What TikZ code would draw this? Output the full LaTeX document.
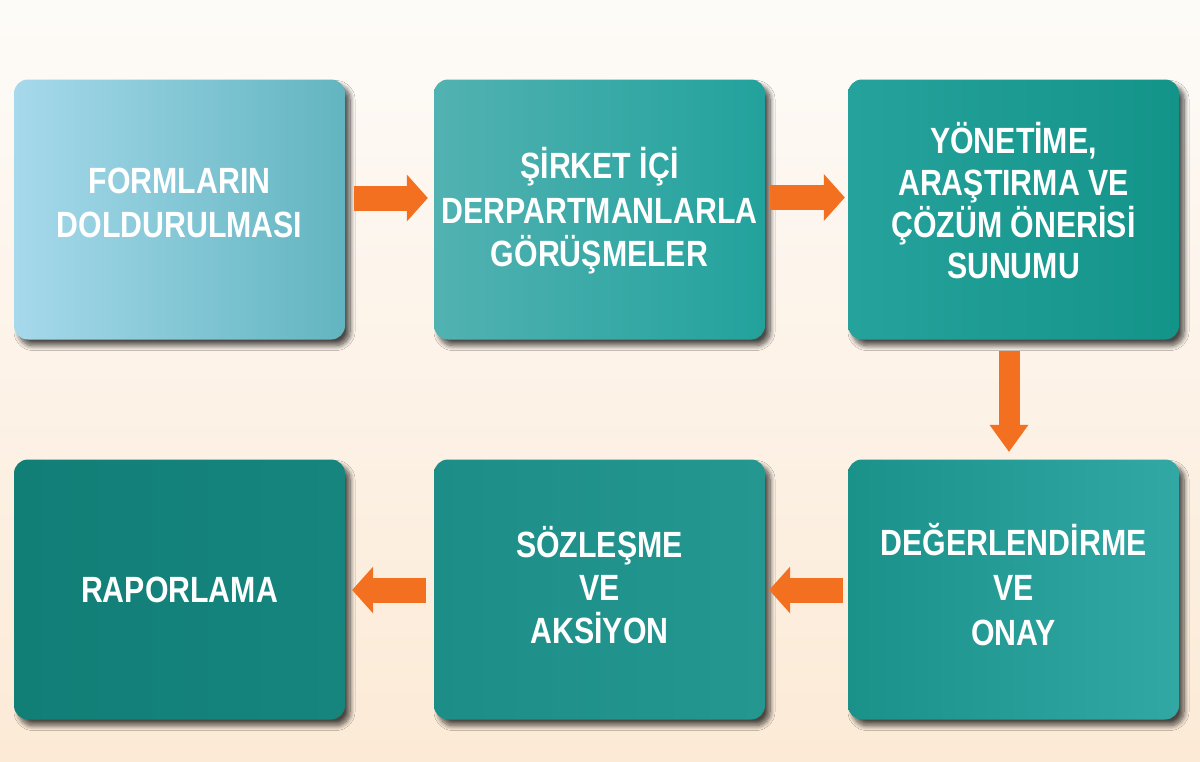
\documentclass[tikz,border=0pt]{standalone}
\usepackage{fontspec}
\newfontfamily\boxfont{Liberation Sans}[FakeStretch=0.83]
\usetikzlibrary{shadows.blur,arrows.meta}
\definecolor{bgtop}{HTML}{FDFBF8}
\definecolor{bgbot}{HTML}{FCEAD6}
\definecolor{arrorange}{HTML}{F37021}
\definecolor{b1l}{HTML}{A6D9EB}\definecolor{b1r}{HTML}{62B5C0}
\definecolor{b2l}{HTML}{52B2B2}\definecolor{b2r}{HTML}{22A29C}
\definecolor{b3l}{HTML}{25A29C}\definecolor{b3r}{HTML}{139489}
\definecolor{b4l}{HTML}{127F77}\definecolor{b4r}{HTML}{15857D}
\definecolor{b5l}{HTML}{1D8E87}\definecolor{b5r}{HTML}{249791}
\definecolor{b6l}{HTML}{1A9189}\definecolor{b6r}{HTML}{32A8A5}
\tikzset{
  stepbox/.style={rounded corners=14pt, minimum width=331pt, minimum height=260pt,
    inner sep=0pt, draw=none,
    blur shadow={shadow xshift=5pt, shadow yshift=-6pt, shadow blur radius=5pt,
      shadow blur steps=10, shadow opacity=70}},
  txt/.style={text=white, font=\boxfont\bfseries\fontsize{36.5}{36.5}\selectfont, anchor=base, inner sep=0pt},
  harrow/.style={arrorange, line width=25pt,
    -{Triangle[length=21pt,width=47pt,line width=0pt]}},
  varrow/.style={arrorange, line width=21pt,
    -{Triangle[length=27pt,width=39pt,line width=0pt]}}
}
\begin{document}
\begin{tikzpicture}[x=1pt,y=-1pt]
\useasboundingbox (0,0) rectangle (1200,761);
\shade[top color=bgtop, bottom color=bgbot] (0,0) rectangle (1200,761);

\node[stepbox, left color=b1l, right color=b1r] (b1) at (179.5,209.5) {};
\node[stepbox, left color=b2l, right color=b2r] (b2) at (599.5,209.5) {};
\node[stepbox, left color=b3l, right color=b3r] (b3) at (1013.5,209.5) {};
\node[stepbox, left color=b4l, right color=b4r] (b4) at (179.5,589.5) {};
\node[stepbox, left color=b5l, right color=b5r] (b5) at (599.5,589.5) {};
\node[stepbox, left color=b6l, right color=b6r] (b6) at (1013.5,589.5) {};

% texts
\node[txt] (t1a) at (179.5,193) {FORMLARIN};
\node[txt] (t1b) at (179.5,237) {DOLDURULMASI};

\node[txt] (t2a) at (599.5,178) {ŞİRKET İÇİ};
\node[txt] (t2b) at (599.5,223) {DERPARTMANLARLA};
\node[txt] (t2c) at (599.5,266) {GÖRÜŞMELER};

\node[txt] (t3a) at (1013.5,153) {YÖNETİME,};
\node[txt] (t3b) at (1013.5,195) {ARAŞTIRMA VE};
\node[txt] (t3c) at (1013.5,237) {ÇÖZÜM ÖNERİSİ};
\node[txt] (t3d) at (1013.5,278) {SUNUMU};

\node[txt] (t6a) at (1013.5,555) {DEĞERLENDİRME};
\node[txt] (t6b) at (1013.5,600) {VE};
\node[txt] (t6c) at (1013.5,645) {ONAY};

\node[txt] (t5a) at (599.5,557) {SÖZLEŞME};
\node[txt] (t5b) at (599.5,600) {VE};
\node[txt] (t5c) at (599.5,643) {AKSİYON};

\node[txt] (t4a) at (179.5,602) {RAPORLAMA};

% connectors
\draw[harrow, shorten <=9pt, shorten >=6pt] ([yshift=11.5pt]b1.east) -- ([yshift=11.5pt]b2.west);
\draw[harrow, shorten <=5pt, shorten >=3pt] ([yshift=12pt]b2.east) -- ([yshift=12pt]b3.west);
\draw[varrow, shorten <=11pt, shorten >=7.5pt] ([xshift=-4.5pt]b3.south) -- ([xshift=-4.5pt]b6.north);
\draw[harrow, shorten <=5pt, shorten >=4pt] ([yshift=-0.5pt]b6.west) -- ([yshift=-0.5pt]b5.east);
\draw[harrow, shorten <=8pt, shorten >=7pt] ([yshift=-0.5pt]b5.west) -- ([yshift=-0.5pt]b4.east);
\end{tikzpicture}
\end{document}
